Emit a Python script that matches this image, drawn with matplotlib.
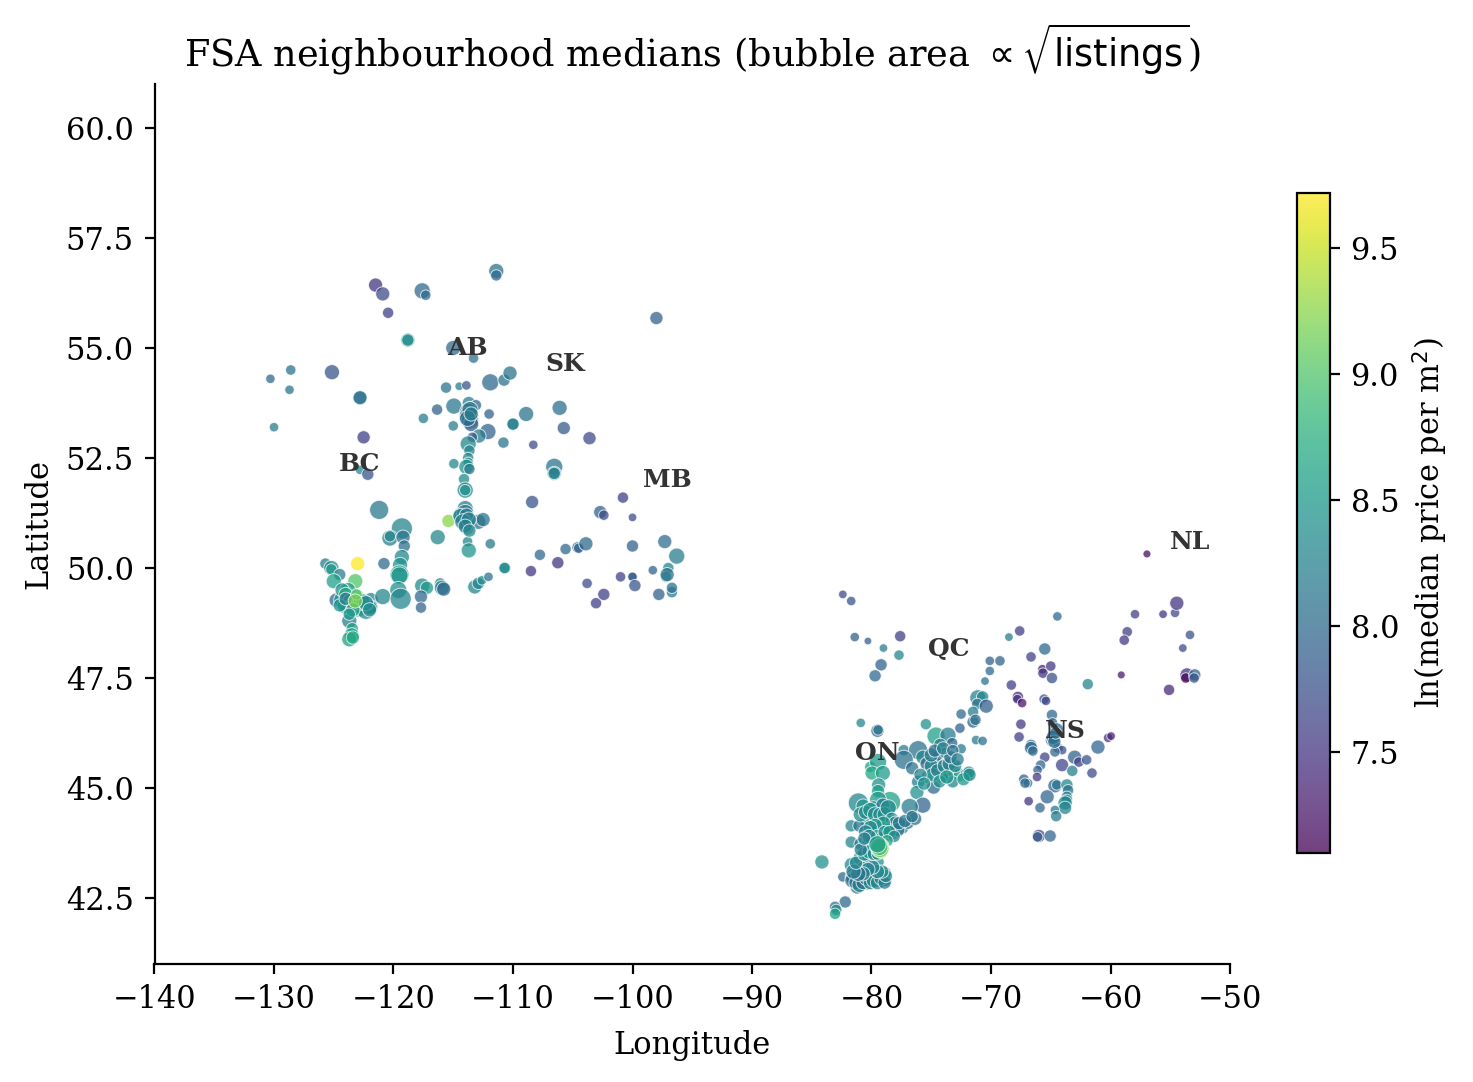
import numpy as np
import matplotlib
matplotlib.use("Agg")
import matplotlib.pyplot as plt

# --- north-west (northern BC, Peace country, northern AB) ---
nw_lon = [-130.3, -128.6, -128.7, -130.0, -125.15, -122.8, -122.8, -122.5, -122.8, -122.15,
          -121.5, -120.9, -120.45, -117.6, -117.3, -118.8, -118.8, -115.0, -113.3, -115.6,
          -114.5, -113.9, -111.9, -110.75, -110.25, -111.4, -111.4, -98.0]
nw_lat = [54.3, 54.5, 54.05, 53.2, 54.45, 53.87, 53.87, 52.97, 52.23, 52.13,
          56.43, 56.23, 55.8, 56.3, 56.2, 55.18, 55.18, 55.0, 54.77, 54.1,
          54.13, 54.15, 54.22, 54.27, 54.43, 56.75, 56.65, 55.68]
nw_val = [8.0, 8.1, 8.1, 8.2, 7.8, 8.0, 8.1, 7.6, 8.3, 7.8,
          7.5, 7.7, 7.6, 8.0, 8.0, 8.2, 8.4, 8.0, 8.1, 8.1,
          8.2, 7.8, 8.0, 8.1, 8.1, 8.1, 8.0, 7.9]
nw_n = [17, 28, 17, 17, 162, 88, 120, 88, 17, 62,
        120, 120, 42, 215, 28, 120, 62, 162, 28, 42,
        10, 17, 280, 62, 120, 162, 42, 88]

# --- Alberta corridor and Saskatchewan north ---
ab_lon = [-114.95, -116.35, -117.5, -113.7, -113.1, -113.6, -113.75, -113.7, -113.6, -113.7,
          -113.5, -112.0, -108.9, -110.0, -110.0, -115.0, -112.1, -112.85, -113.4, -110.8,
          -108.3, -113.75, -113.65, -113.75, -113.75, -114.95, -113.9, -113.65, -114.1, -114.0,
          -114.0, -114.0, -106.1, -105.75, -103.6, -106.55, -106.55, -106.55, -108.4,
          -113.6, -113.8, -113.5]
ab_lat = [53.68, 53.6, 53.4, 53.75, 53.7, 53.66, 53.55, 53.45, 53.35, 53.3,
          53.27, 53.5, 53.5, 53.27, 53.27, 53.23, 53.1, 53.0, 52.97, 52.85,
          52.8, 52.82, 52.67, 52.5, 52.4, 52.37, 52.3, 52.25, 52.02, 51.77,
          51.77, 51.35, 53.64, 53.18, 52.95, 52.3, 52.15, 52.15, 51.5,
          53.6, 53.4, 53.5]
ab_val = [8.15, 7.9, 8.2, 8.2, 8.0, 8.5, 8.15, 8.1, 8.05, 8.0,
          7.9, 7.9, 8.1, 8.1, 8.25, 8.2, 7.95, 8.2, 7.8, 8.1,
          7.7, 8.3, 8.35, 8.3, 8.4, 8.3, 8.4, 8.2, 8.35, 8.3,
          8.45, 8.2, 8.05, 7.85, 7.7, 8.1, 8.4, 8.2, 7.8,
          8.1, 8.05, 8.2]
ab_n = [215, 42, 28, 88, 42, 42, 280, 445, 280, 42,
        162, 28, 162, 62, 62, 28, 215, 120, 28, 42,
        17, 215, 42, 42, 28, 28, 162, 42, 42, 215,
        42, 215, 162, 88, 88, 280, 120, 62, 88,
        215, 215, 120]

# --- southern BC ---
bc_lon = [-121.2, -119.3, -120.3, -120.3, -119.2, -119.1, -119.3, -119.45, -119.5, -119.5,
          -123.0, -120.8, -125.7, -125.2, -125.2, -124.5, -125.0, -123.2, -123.8, -124.8,
          -124.2, -123.9, -124.0, -123.0, -123.0, -122.85, -123.0, -122.3, -121.9, -121.9,
          -122.0, -120.9, -119.6, -119.4, -123.7, -123.45, -123.5, -123.7, -123.4, -117.6,
          -117.2, -117.7, -117.7, -116.1, -115.95, -115.8]
bc_lat = [51.32, 50.9, 50.68, 50.72, 50.7, 50.5, 50.25, 50.07, 49.85, 49.83,
          50.1, 50.1, 50.1, 50.0, 49.97, 49.85, 49.7, 49.7, 49.5, 49.27,
          49.27, 49.1, 49.15, 49.35, 49.33, 49.15, 49.1, 49.05, 49.27, 49.12,
          49.1, 49.35, 49.5, 49.3, 48.8, 48.62, 48.47, 48.38, 48.42, 49.6,
          49.55, 49.35, 49.1, 49.65, 49.55, 49.52]
bc_val = [8.15, 8.3, 8.25, 8.3, 8.1, 8.1, 8.3, 8.45, 8.45, 8.5,
          9.7, 8.0, 8.2, 8.4, 8.5, 8.2, 8.6, 9.0, 8.6, 8.0,
          8.5, 8.3, 8.6, 9.4, 9.5, 9.1, 8.8, 8.3, 8.3, 8.0,
          8.2, 8.3, 8.4, 8.3, 8.2, 8.6, 8.6, 8.6, 8.7, 8.35,
          8.5, 8.0, 7.95, 8.3, 8.2, 8.0]
bc_n = [445, 680, 215, 42, 120, 62, 162, 162, 445, 280,
        120, 62, 42, 162, 42, 62, 162, 162, 162, 120,
        445, 42, 280, 120, 42, 280, 445, 445, 162, 120,
        162, 215, 280, 680, 162, 62, 162, 162, 88, 162,
        88, 88, 42, 42, 162, 120]

# --- Vancouver area ---
van_lon = [-124.3, -124.0, -123.6, -123.3, -122.8, -122.55, -122.3, -122.0, -123.4, -123.7,
           -124.5, -124.0, -123.1, -123.2]
van_lat = [49.5, 49.4, 49.25, 49.2, 49.2, 49.25, 49.2, 49.05, 49.05, 48.95,
           49.15, 49.3, 49.4, 49.25]
van_val = [8.4, 8.7, 8.6, 8.9, 8.9, 8.5, 8.3, 8.4, 8.5, 8.5,
           8.4, 8.2, 8.9, 9.2]
van_n = [120, 120, 162, 162, 120, 120, 162, 120, 120, 62,
         88, 88, 42, 120]

# --- southern Alberta ---
cal_lon = [-113.2, -112.9, -112.6, -112.05, -110.7, -110.7, -115.4, -116.3, -114.4, -114.0,
           -114.4, -113.85, -112.9, -112.5, -113.85, -113.8, -113.7, -111.9, -113.9, -114.2,
           -113.7, -114.0, -113.65]
cal_lat = [49.57, 49.65, 49.72, 49.8, 50.0, 50.0, 51.07, 50.7, 51.2, 51.25,
           51.18, 51.03, 51.05, 51.1, 50.9, 50.6, 50.4, 50.55, 51.2, 51.05,
           51.1, 50.95, 50.85]
cal_val = [8.3, 8.3, 8.35, 8.1, 8.3, 8.35, 9.25, 8.3, 8.15, 8.25,
           8.3, 8.3, 8.1, 8.1, 8.3, 8.3, 8.45, 8.15, 8.1, 8.2,
           8.25, 8.2, 8.3]
cal_n = [120, 62, 17, 17, 62, 42, 88, 162, 162, 280,
         162, 162, 162, 120, 88, 28, 162, 28, 120, 215,
         162, 120, 88]

# --- Prairies south ---
pr_lon = [-100.8, -100.0, -102.7, -102.4, -107.75, -108.5, -105.6, -106.25, -104.6, -104.5,
          -103.9, -103.8, -103.05, -102.4, -101.0, -100.0, -100.0, -100.0, -99.8, -98.3,
          -97.8, -97.3, -97.0, -97.2, -97.1, -96.7, -96.7, -96.3]
pr_lat = [51.6, 51.15, 51.27, 51.2, 50.3, 49.93, 50.43, 50.12, 50.47, 50.45,
          50.55, 49.65, 49.2, 49.4, 49.8, 49.8, 49.8, 50.5, 49.6, 49.95,
          49.4, 50.6, 50.0, 49.8, 49.85, 49.45, 49.55, 50.27]
pr_val = [7.6, 7.7, 7.9, 7.7, 8.0, 7.5, 8.0, 7.5, 8.1, 7.9,
          8.0, 7.7, 7.6, 7.6, 7.6, 8.2, 7.8, 7.9, 7.8, 7.9,
          7.9, 8.05, 8.3, 8.25, 8.1, 8.2, 8.1, 8.2]
pr_n = [42, 10, 88, 28, 42, 42, 42, 62, 42, 28,
        120, 28, 42, 62, 28, 17, 17, 62, 62, 17,
        62, 120, 42, 42, 120, 42, 42, 215]

# --- Quebec and eastern Ontario ---
qc_lon = [-82.4, -81.7, -81.4, -80.3, -77.6, -79.0, -77.7, -79.2, -79.7, -80.9,
          -79.5, -79.45, -75.45, -74.6, -73.6, -72.6, -71.5, -71.25, -70.7, -72.5,
          -73.25, -74.25, -77.3, -76.1, -77.3, -76.6, -75.7, -75.35, -74.6, -74.45,
          -73.85, -74.0, -73.25, -72.6, -72.0, -71.85, -73.2, -74.8, -74.1, -75.35,
          -76.1, -76.2, -75.7, -76.8, -68.5, -67.6, -69.25, -70.1, -70.1, -70.5,
          -68.3, -71.1, -70.7, -71.15, -70.4, -72.5, -71.5, -71.3]
qc_lat = [49.4, 49.25, 48.43, 48.34, 48.45, 48.18, 48.02, 47.8, 47.55, 46.48,
          46.3, 46.32, 46.45, 46.18, 46.2, 46.36, 46.5, 46.09, 46.07, 45.89,
          46.02, 45.98, 45.86, 45.86, 45.64, 45.45, 45.7, 45.55, 45.57, 45.73,
          45.8, 45.36, 45.41, 45.3, 45.3, 45.36, 45.14, 45.02, 45.25, 45.25,
          45.14, 44.9, 44.61, 44.57, 48.43, 48.57, 47.89, 47.89, 47.66, 47.43,
          47.34, 47.05, 47.07, 46.91, 46.86, 46.68, 46.73, 46.55]
qc_val = [7.7, 7.8, 7.9, 7.9, 7.6, 8.2, 8.3, 7.9, 8.0, 8.3,
          8.0, 8.1, 8.4, 8.6, 8.2, 7.9, 8.0, 8.2, 8.1, 8.2,
          8.0, 8.2, 8.2, 8.1, 8.1, 8.1, 8.3, 8.0, 7.8, 8.0,
          8.2, 8.45, 8.55, 8.6, 8.5, 8.3, 8.3, 8.0, 8.2, 8.4,
          8.2, 8.4, 7.95, 8.2, 8.2, 7.6, 7.9, 7.9, 8.0, 8.1,
          7.6, 8.3, 8.3, 8.1, 7.9, 8.0, 8.2, 8.1]
qc_n = [10, 17, 17, 5, 42, 10, 28, 62, 62, 17,
        88, 28, 42, 355, 215, 28, 62, 17, 17, 28,
        42, 88, 42, 445, 445, 88, 120, 120, 42, 28,
        42, 120, 120, 88, 120, 62, 62, 120, 88, 62,
        88, 120, 215, 280, 10, 28, 28, 17, 17, 10,
        28, 215, 62, 42, 120, 28, 42, 42]

# --- Montreal / Ottawa corridor ---
mtl_lon = [-75.0, -74.9, -74.5, -74.3, -73.9, -73.5, -73.0, -73.4, -73.7, -75.9,
           -75.6, -75.0, -74.7, -74.0, -73.2, -72.8, -72.3, -71.8]
mtl_lat = [45.5, 45.3, 45.4, 45.15, 45.5, 45.55, 45.5, 45.7, 45.25, 45.3,
           45.1, 45.75, 45.85, 45.9, 45.85, 45.65, 45.2, 45.3]
mtl_val = [8.3, 8.4, 8.2, 8.4, 8.3, 8.2, 8.3, 8.1, 8.5, 8.3,
           8.4, 8.2, 8.1, 8.25, 8.1, 8.2, 8.5, 8.4]
mtl_n = [120, 120, 88, 88, 120, 120, 88, 88, 120, 88,
         88, 120, 88, 88, 62, 88, 88, 88]

# --- southern Ontario ---
on_lon = [-80.1, -79.45, -79.95, -79.05, -79.4, -79.45, -81.1, -80.7, -78.45, -79.45,
          -79.85, -79.05, -80.4, -79.55, -78.6, -79.3, -78.85, -78.2, -77.45, -76.95,
          -76.35, -81.7, -81.05, -81.7, -80.95, -80.3, -79.85, -78.85, -84.15, -82.4,
          -81.65, -80.95, -80.3, -79.45, -81.4, -81.55, -81.2, -80.4, -79.95, -79.3,
          -78.85, -78.85, -80.7, -82.2, -83.05, -82.95, -83.05]
on_lat = [45.48, 45.59, 45.34, 45.34, 45.07, 44.93, 44.66, 44.59, 44.68, 44.73,
          44.55, 44.61, 44.27, 44.34, 44.34, 44.11, 44.09, 43.98, 44.11, 44.2,
          44.3, 44.14, 44.14, 43.77, 43.73, 43.77, 43.98, 43.93, 43.32, 42.98,
          43.25, 43.41, 43.43, 43.32, 42.98, 42.95, 42.75, 42.84, 43.07, 42.9,
          42.9, 43.07, 43.18, 42.41, 42.3, 42.23, 42.14]
on_val = [8.6, 8.5, 8.65, 8.55, 8.4, 8.6, 8.3, 8.5, 8.6, 8.5,
          8.35, 8.2, 8.4, 8.4, 8.3, 8.5, 8.65, 8.3, 8.15, 8.1,
          8.1, 8.3, 8.1, 8.3, 8.1, 8.3, 8.4, 8.5, 8.4, 8.0,
          8.3, 8.4, 8.3, 8.4, 8.1, 8.0, 8.2, 8.1, 8.3, 8.4,
          8.2, 8.3, 8.2, 8.0, 8.1, 8.3, 8.6]
on_n = [42, 280, 120, 162, 120, 88, 550, 120, 680, 280,
        120, 120, 120, 162, 62, 120, 120, 88, 120, 62,
        88, 62, 62, 62, 62, 62, 120, 120, 120, 28,
        162, 120, 62, 62, 445, 120, 120, 120, 120, 120,
        62, 62, 88, 62, 42, 42, 42]

# --- dense south-western Ontario block ---
sw_lon = [-81.6, -81.3, -81.0, -80.7, -80.4, -80.1, -79.8, -79.5, -79.2, -78.9,
          -78.8, -79.1, -79.5, -79.9, -80.3, -80.7, -81.1, -81.5, -81.3, -80.6,
          -80.2, -79.8, -79.5, -80.9]
sw_lat = [42.9, 42.85, 42.8, 42.85, 42.95, 42.85, 42.9, 42.85, 42.95, 42.85,
          43.0, 43.1, 43.1, 43.2, 43.15, 43.05, 43.05, 43.1, 43.3, 43.5,
          43.55, 43.5, 43.5, 43.6]
sw_val = [8.05, 8.15, 8.2, 8.1, 8.2, 8.3, 8.35, 8.3, 8.25, 8.2,
          8.3, 8.4, 8.3, 8.3, 8.25, 8.2, 8.1, 8.2, 8.3, 8.4,
          8.4, 8.35, 8.4, 8.2]
sw_n = [162, 120, 162, 120, 162, 120, 162, 120, 120, 88,
        88, 88, 120, 120, 120, 120, 162, 162, 88, 120,
        120, 88, 62, 88]

# --- Greater Toronto and lakeshore ---
gta_lon = [-80.9, -80.5, -80.1, -79.7, -79.3, -78.9, -78.6, -78.3, -78.0, -77.8,
           -78.6, -79.0, -79.7, -80.1, -80.5, -79.9, -79.5, -79.1, -78.9, -78.5,
           -78.1, -80.2, -80.6, -77.7, -77.2, -76.6, -79.2, -79.15, -78.7, -79.3,
           -79.3, -79.35, -79.5]
gta_lat = [44.4, 44.45, 44.5, 44.4, 44.4, 44.4, 44.55, 44.3, 44.2, 44.05,
           44.05, 44.2, 44.15, 44.1, 44.0, 43.85, 43.9, 43.85, 44.0, 44.0,
           43.9, 43.9, 43.85, 44.2, 44.25, 44.35, 43.55, 43.6, 43.8, 43.65,
           43.62, 43.66, 43.72]
gta_val = [8.35, 8.4, 8.45, 8.4, 8.35, 8.4, 8.35, 8.4, 8.3, 8.2,
           8.25, 8.45, 8.45, 8.35, 8.25, 8.4, 8.5, 8.6, 8.4, 8.5,
           8.3, 8.3, 8.25, 8.15, 8.15, 8.1, 8.5, 8.3, 8.6, 9.1,
           9.2, 8.9, 8.55]
gta_n = [162, 120, 162, 162, 120, 162, 215, 88, 120, 120,
         88, 120, 120, 120, 120, 120, 120, 120, 88, 88,
         62, 120, 88, 88, 88, 62, 88, 62, 62, 445,
         355, 280, 280]

# --- Maritimes ---
ma_lon = [-64.45, -65.5, -66.65, -65.7, -65.65, -65.0, -64.9, -67.75, -67.8, -67.4,
          -65.55, -65.4, -64.9, -67.5, -67.65, -64.85, -64.5, -64.65, -64.9, -64.8,
          -64.4, -64.05, -64.65, -65.5, -66.65, -66.65, -66.5, -60.2, -59.95, -61.05,
          -63.0, -62.65, -62.0, -64.05, -63.2, -61.55, -65.85, -66.1, -66.15, -67.25,
          -66.9, -67.15, -64.65, -64.5, -63.65, -63.55, -63.65, -63.65, -63.8, -63.8,
          -65.3, -65.9, -66.85, -64.65, -64.55, -66.0, -66.1, -65.05, -64.8, -64.7,
          -64.6]
ma_lat = [48.9, 48.16, 47.98, 47.7, 47.61, 47.77, 47.5, 47.07, 47.02, 46.93,
          47.02, 46.98, 46.66, 46.45, 46.16, 46.48, 46.32, 46.2, 46.09, 46.09,
          45.91, 45.86, 45.82, 45.7, 45.98, 45.91, 45.84, 46.14, 46.18, 45.93,
          45.7, 45.59, 45.64, 45.52, 45.39, 45.34, 45.52, 45.41, 45.25, 45.2,
          45.11, 45.11, 45.05, 45.07, 45.07, 44.95, 44.8, 44.73, 44.66, 44.55,
          44.8, 44.55, 44.7, 44.5, 44.36, 43.91, 43.89, 43.91, 46.15, 46.05,
          46.25]
ma_val = [8.0, 8.0, 7.6, 7.35, 7.5, 7.55, 7.75, 7.4, 7.5, 7.25,
          7.8, 7.65, 8.0, 7.55, 7.6, 8.0, 8.05, 8.1, 7.9, 8.05,
          7.6, 7.75, 8.0, 7.65, 8.05, 8.0, 8.0, 7.5, 7.35, 7.95,
          7.9, 7.6, 7.8, 7.65, 8.2, 7.7, 8.0, 7.9, 7.55, 7.9,
          8.1, 8.0, 7.95, 8.15, 8.3, 8.1, 8.25, 8.3, 8.3, 8.3,
          7.95, 7.95, 7.5, 8.15, 8.2, 7.65, 7.85, 7.95, 8.0, 8.1,
          8.05]
ma_n = [17, 62, 28, 17, 28, 28, 42, 42, 17, 17,
        28, 17, 42, 28, 28, 28, 120, 88, 88, 42,
        28, 17, 28, 28, 42, 88, 28, 17, 10, 120,
        120, 28, 28, 88, 42, 28, 28, 17, 17, 28,
        17, 28, 120, 28, 62, 42, 42, 42, 120, 88,
        120, 28, 17, 17, 42, 88, 28, 62, 120, 88,
        62]

# --- Newfoundland ---
nl_lon = [-56.95, -57.95, -58.6, -58.85, -55.6, -54.6, -54.45, -53.35, -53.95, -59.1,
          -55.1, -53.6, -53.7, -52.95, -53.0, -61.9]
nl_lat = [50.32, 48.95, 48.55, 48.36, 48.95, 48.98, 49.2, 48.48, 48.18, 47.57,
          47.23, 47.57, 47.5, 47.57, 47.5, 47.36]
nl_val = [7.2, 7.6, 7.6, 7.55, 7.5, 7.7, 7.5, 7.75, 7.7, 7.3,
          7.4, 7.5, 7.15, 7.95, 7.8, 8.3]
nl_n = [6, 17, 28, 28, 10, 17, 120, 17, 10, 6,
        42, 120, 28, 62, 28, 42]

labels = ["BC", "AB", "SK", "MB", "ON", "QC", "NS", "NL"]
label_lon = [-124.55, -115.5, -107.3, -99.1, -81.4, -75.3, -65.5, -55.0]
label_lat = [52.36, 55.0, 54.64, 52.0, 45.8, 48.15, 46.3, 50.6]

lon = np.array(nw_lon + ab_lon + bc_lon + van_lon + cal_lon + pr_lon + qc_lon + mtl_lon + on_lon + sw_lon + gta_lon + ma_lon + nl_lon)
lat = np.array(nw_lat + ab_lat + bc_lat + van_lat + cal_lat + pr_lat + qc_lat + mtl_lat + on_lat + sw_lat + gta_lat + ma_lat + nl_lat)
val = np.array(nw_val + ab_val + bc_val + van_val + cal_val + pr_val + qc_val + mtl_val + on_val + sw_val + gta_val + ma_val + nl_val)
listings = np.array(nw_n + ab_n + bc_n + van_n + cal_n + pr_n + qc_n + mtl_n + on_n + sw_n + gta_n + ma_n + nl_n, dtype=float)

plt.rcParams["font.family"] = "DejaVu Serif"
plt.rcParams["mathtext.fontset"] = "dejavusans"
plt.rcParams["font.size"] = 11
plt.rcParams["xtick.major.pad"] = 3.8
plt.rcParams["ytick.major.pad"] = 3.9

fig = plt.figure(figsize=(7.365, 5.41), dpi=200)
W, H = 1473.0, 1082.0
ax = fig.add_axes([154.5 / W, (H - 964) / H, (1230 - 154.5) / W, (964 - 84) / H])
sc = ax.scatter(lon, lat, c=val, s=3.0 + 2.1 * np.sqrt(listings), cmap="viridis",
                vmin=7.1, vmax=9.72, alpha=0.75, edgecolors="white", linewidths=0.35)
ax.set_xlim(-140, -50)
ax.set_ylim(41, 61)
ax.set_xlabel("Longitude", fontsize=11, labelpad=5.2)
ax.set_ylabel("Latitude", fontsize=11)
ax.set_title(r"FSA neighbourhood medians (bubble area $\propto\sqrt{\mathrm{listings}}$)", fontsize=13.2, pad=6.3)
ax.spines["top"].set_visible(False)
ax.spines["right"].set_visible(False)
for name, x, y in zip(labels, label_lon, label_lat):
    ax.text(x, y, name, fontsize=9, fontweight="bold", color="#333333", ha="left", va="center")

cax = fig.add_axes([1297 / W, (H - 853) / H, 33 / W, 660 / H])
cb = fig.colorbar(sc, cax=cax)
cb.set_label(r"ln(median price per m$^2$)", fontsize=11)
cb.set_ticks([7.5, 8.0, 8.5, 9.0, 9.5])

fig.savefig("out.png", dpi=200)
